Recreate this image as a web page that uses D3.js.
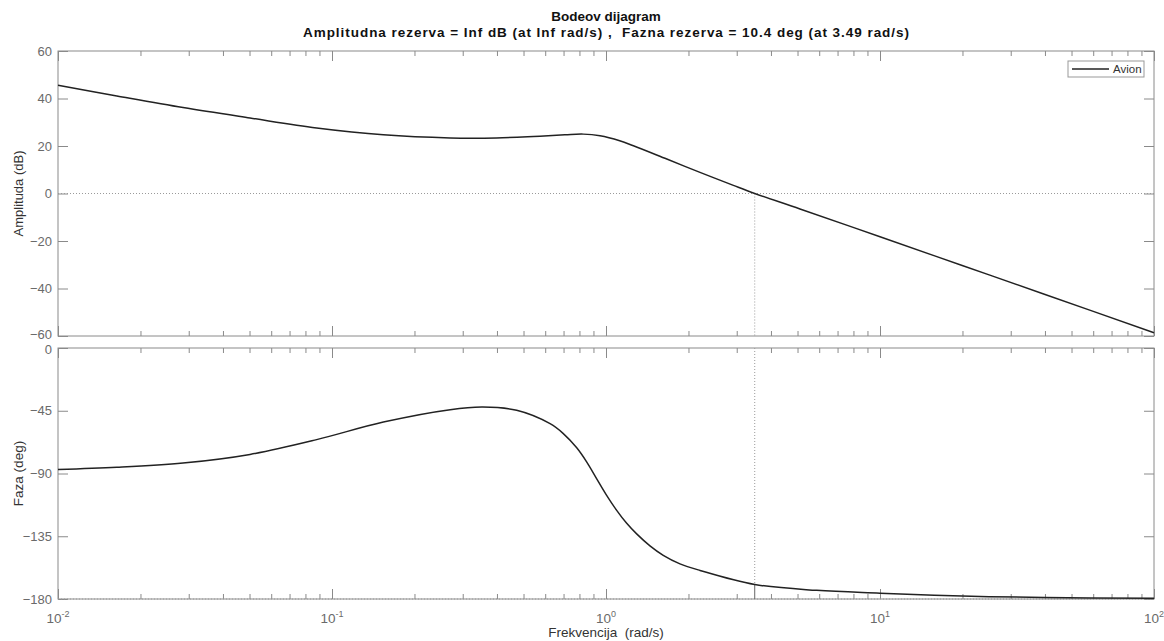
<!DOCTYPE html>
<html>
<head>
<meta charset="utf-8">
<script src="https://cdn.jsdelivr.net/npm/d3@7"></script>
<style>
  body { margin: 0; background: #fff; }
  svg { display: block; font-family: "Liberation Sans", Arial, Helvetica, sans-serif; }
  text { white-space: pre; }
</style>
</head>
<body>
<svg id="chart" width="1164" height="641"></svg>
<script>
// ---- data ----
const titleLine1 = "Bodeov dijagram";
const titleLine2 = "Amplitudna rezerva = Inf dB (at Inf rad/s) ,  Fazna rezerva = 10.4 deg (at 3.49 rad/s)";
const seriesName = "Avion";

const magFreq = [0.01, 0.0164, 0.0286, 0.0502, 0.0879, 0.154, 0.27, 0.398, 0.543, 0.708, 0.826, 0.951, 1.122, 1.259, 1.667, 2.203, 2.917, 3.49, 5.105, 10, 19.95, 39.8, 100];
const magDb   = [45.6, 41.1, 36.2, 31.8, 27.6, 24.7, 23.4, 23.4, 24.0, 24.7, 25.0, 24.3, 22.2, 20.1, 14.5, 8.9, 3.4, 0, -6.5, -18.2, -30.3, -42.4, -58.6];

const phFreq = [0.01, 0.0164, 0.0286, 0.0502, 0.0879, 0.154, 0.27, 0.355, 0.472, 0.625, 0.697, 0.782, 0.852, 0.925, 1.0, 1.094, 1.19, 1.294, 1.447, 1.618, 1.862, 2.203, 3.49, 5.875, 10, 19.95, 39.8, 100];
const phDeg  = [-87.2, -85.6, -82.5, -76.3, -65.7, -53.1, -44.2, -42.4, -44.7, -54.3, -61.2, -71.6, -82.0, -93.8, -104.9, -116.4, -125.7, -133.3, -141.9, -148.7, -154.8, -159.5, -169.6, -173.8, -175.8, -177.9, -178.9, -179.5];

const crossFreq = 3.49;      // gain crossover
const crossPhase = -169.6;   // phase at crossover
const magTicks = [-60, -40, -20, 0, 20, 40, 60];
const phTicks = [-180, -135, -90, -45, 0];
const decadeExps = [-2, -1, 0, 1, 2];

// ---- scales ----
const svg = d3.select("#chart");
const L = 58, R = 1154;
const magTop = 51, magBot = 336, phTop = 348, phBot = 599;
const x = d3.scaleLog().domain([0.01, 100]).range([L, R]);
const yMag = d3.scaleLinear().domain([-60, 60]).range([magBot, magTop]);
const yPh = d3.scaleLinear().domain([-180, 0]).range([phBot, phTop]);

const axisCol = "#8a8a8a", labelCol = "#6a6a6a";
const majors = decadeExps.map(e => Math.pow(10, e));
const minors = [];
for (let e = -2; e < 2; e++) for (let m = 2; m <= 9; m++) minors.push(m * Math.pow(10, e));

function panel(y, top, bot, yticks, nudge) {
  const g = svg.append("g");
  g.append("rect").attr("x", L).attr("y", top).attr("width", R - L).attr("height", bot - top)
    .attr("fill", "none").attr("stroke", axisCol).attr("stroke-width", 1);
  const styleAxis = sel => { sel.select(".domain").remove(); sel.selectAll("line").attr("stroke", axisCol); };
  g.append("g").attr("transform", `translate(0,${bot})`)
    .call(d3.axisBottom(x).tickValues(majors).tickSizeInner(-10).tickSizeOuter(0).tickFormat(""))
    .call(styleAxis);
  g.append("g").attr("transform", `translate(0,${bot})`)
    .call(d3.axisBottom(x).tickValues(minors).tickSizeInner(-5).tickSizeOuter(0).tickFormat(""))
    .call(styleAxis);
  g.append("g").attr("transform", `translate(0,${top})`)
    .call(d3.axisTop(x).tickValues(majors).tickSizeInner(-10).tickSizeOuter(0).tickFormat(""))
    .call(styleAxis);
  g.append("g").attr("transform", `translate(0,${top})`)
    .call(d3.axisTop(x).tickValues(minors).tickSizeInner(-5).tickSizeOuter(0).tickFormat(""))
    .call(styleAxis);
  const ya = g.append("g").attr("transform", `translate(${L},0)`)
    .call(d3.axisLeft(y).tickValues(yticks).tickSizeInner(-10).tickSizeOuter(0).tickPadding(6).tickFormat(d3.format("d")))
    .call(styleAxis);
  ya.selectAll("text").attr("fill", labelCol).attr("font-size", 13).attr("font-family", null)
    .attr("transform", d => nudge(d) ? `translate(0,${nudge(d)})` : null);
  g.append("g").attr("transform", `translate(${R},0)`)
    .call(d3.axisRight(y).tickValues(yticks).tickSizeInner(-10).tickSizeOuter(0).tickFormat(""))
    .call(styleAxis);
  return g;
}

panel(yMag, magTop, magBot, magTicks, d => d === -60 ? -1.5 : 0);
panel(yPh, phTop, phBot, phTicks, d => d === 0 ? 1.5 : 0);

// dotted reference lines
const dotCol = "#9a9a9a";
svg.append("line").attr("x1", L).attr("x2", R).attr("y1", yMag(0)).attr("y2", yMag(0))
  .attr("stroke", dotCol).attr("stroke-dasharray", "1,2");
svg.append("line").attr("x1", x(crossFreq)).attr("x2", x(crossFreq)).attr("y1", yMag(0)).attr("y2", magBot)
  .attr("stroke", dotCol).attr("stroke-dasharray", "1,2");
svg.append("line").attr("x1", L).attr("x2", R).attr("y1", yPh(-180)).attr("y2", yPh(-180))
  .attr("stroke", dotCol).attr("stroke-dasharray", "1,2");
svg.append("line").attr("x1", x(crossFreq)).attr("x2", x(crossFreq)).attr("y1", phTop).attr("y2", yPh(crossPhase))
  .attr("stroke", dotCol).attr("stroke-dasharray", "1,2");
svg.append("line").attr("x1", x(crossFreq)).attr("x2", x(crossFreq)).attr("y1", yPh(crossPhase)).attr("y2", yPh(-180))
  .attr("stroke", "#666").attr("stroke-width", 1);

// curves
const curveCol = "#222";
const path = d3.line().curve(d3.curveCatmullRom.alpha(0.5));
svg.append("path").datum(d3.zip(magFreq, magDb))
  .attr("d", d => path(d.map(p => [x(p[0]), yMag(p[1])])))
  .attr("fill", "none").attr("stroke", curveCol).attr("stroke-width", 1.5);
svg.append("path").datum(d3.zip(phFreq, phDeg))
  .attr("d", d => path(d.map(p => [x(p[0]), yPh(p[1])])))
  .attr("fill", "none").attr("stroke", curveCol).attr("stroke-width", 1.5);

// x tick labels (10^k) on bottom panel
decadeExps.forEach(e => {
  const t = svg.append("text").attr("x", x(Math.pow(10, e))).attr("y", 623)
    .attr("text-anchor", "middle").attr("fill", labelCol).attr("font-size", 13.5);
  t.append("tspan").text("10");
  t.append("tspan").attr("dy", -6).attr("font-size", 9).text(String(e));
});

// titles and labels
svg.append("text").attr("x", (L + R) / 2).attr("y", 21).attr("text-anchor", "middle")
  .attr("font-weight", "bold").attr("font-size", 13.5).attr("fill", "#111").text(titleLine1);
svg.append("text").attr("x", (L + R) / 2 - 303).attr("y", 37)
  .attr("textLength", 606).attr("lengthAdjust", "spacing")
  .attr("font-weight", "bold").attr("font-size", 13.5).attr("fill", "#111").text(titleLine2);
svg.append("text").attr("transform", `translate(23,${(magTop + magBot) / 2}) rotate(-90)`)
  .attr("text-anchor", "middle").attr("font-size", 13).attr("fill", "#333").text("Amplituda (dB)");
svg.append("text").attr("transform", `translate(23,${(phTop + phBot) / 2}) rotate(-90)`)
  .attr("text-anchor", "middle").attr("font-size", 13.5).attr("fill", "#333").text("Faza (deg)");
svg.append("text").attr("x", (L + R) / 2).attr("y", 637).attr("text-anchor", "middle")
  .attr("font-size", 13.5).attr("fill", "#333").text("Frekvencija  (rad/s)");

// legend
const lg = svg.append("g");
lg.append("rect").attr("x", 1068).attr("y", 61).attr("width", 76).attr("height", 16)
  .attr("fill", "#fff").attr("stroke", "#999");
lg.append("line").attr("x1", 1072).attr("x2", 1109).attr("y1", 69).attr("y2", 69)
  .attr("stroke", curveCol).attr("stroke-width", 1.5);
lg.append("text").attr("x", 1113).attr("y", 73).attr("font-size", 11.5).attr("fill", "#333").text(seriesName);
</script>
</body>
</html>
